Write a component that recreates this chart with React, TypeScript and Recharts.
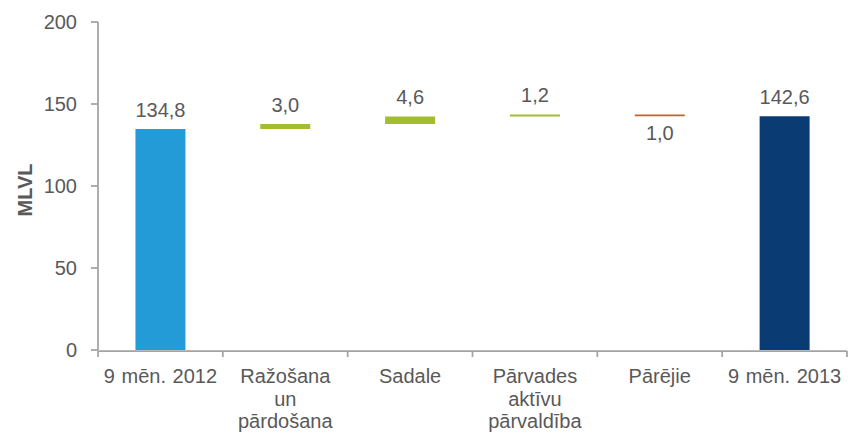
import React from 'react';
import { BarChart, Bar, XAxis, YAxis, Cell, LabelList } from 'recharts';

const categories = [
  '9 mēn. 2012',
  'Ražošana\nun\npārdošana',
  'Sadale',
  'Pārvades\naktīvu\npārvaldība',
  'Pārējie',
  '9 mēn. 2013',
];
const values = [134.8, 3.0, 4.6, 1.2, -1.0, 142.6];
const isTotal = [true, false, false, false, false, true];
const valueLabels = ['134,8', '3,0', '4,6', '1,2', '1,0', '142,6'];
const barColors = ['#229BD6', '#A3BD31', '#A3BD31', '#A3BD31', '#D05A2A', '#0A3C73'];
const yTicks = [0, 50, 100, 150, 200];
const boundaryTicks = [0, 1, 2, 3, 4, 5, 6];

const FONT = '"Liberation Sans", Arial, sans-serif';
const TEXT = '#595959';
const AXIS = '#A3A3A3';

let running = 0;
const data = categories.map((name, i) => {
  const v = values[i];
  let base = 0;
  let size = 0;
  if (isTotal[i]) {
    base = 0;
    size = v;
    running = v;
  } else if (v >= 0) {
    base = running;
    size = v;
    running += v;
  } else {
    running += v;
    base = running;
    size = -v;
  }
  return { name, pos: i, base, size, neg: v < 0, label: valueLabels[i], color: barColors[i] };
});

const renderValueLabel = (props: any) => {
  const { x, y, width, height, index } = props;
  const d = data[index];
  const cx = Number(x) + Number(width) / 2;
  if (d.neg) {
    return (
      <text x={cx} y={Number(y) + Number(height) + 24} textAnchor="middle" fill={TEXT} fontSize={20} fontFamily={FONT}>
        {d.label}
      </text>
    );
  }
  return (
    <text x={cx} y={Number(y) - 12} textAnchor="middle" fill={TEXT} fontSize={20} fontFamily={FONT}>
      {d.label}
    </text>
  );
};

const CategoryTick = (props: any) => {
  const { x, payload } = props;
  const lines = String(payload.value).split('\n');
  const top = 350;
  return (
    <text x={x} y={top} textAnchor="middle" fill={TEXT} fontSize={20} fontFamily={FONT} wordSpacing={1}>
      {lines.map((l, i) => (
        <tspan key={i} x={x} dy={i === 0 ? 33 : 22.5}>
          {l}
        </tspan>
      ))}
    </text>
  );
};

const EmptyTick = () => <g />;

const YTitle = (props: any) => {
  const vb = props.viewBox || { x: 0, y: 22, width: 98, height: 328 };
  const cy = vb.y + vb.height / 2 + 4;
  const cx = 32;
  return (
    <text
      x={cx}
      y={cy}
      textAnchor="middle"
      transform={`rotate(-90 ${cx} ${cy})`}
      fill={TEXT}
      fontSize={20}
      fontWeight="bold"
      fontFamily={FONT}
    >
      MLVL
    </text>
  );
};

export default function App() {
  return (
    <div style={{ position: 'absolute', left: 0, top: 0, width: 848, height: 435, background: '#fff' }}>
      <BarChart
        width={848}
        height={435}
        data={data}
        margin={{ top: 22, right: 1, bottom: 83, left: 0 }}
        barCategoryGap="30%"
      >
        <XAxis
          xAxisId="cat"
          dataKey="name"
          type="category"
          height={1}
          interval={0}
          axisLine={false}
          tickLine={false}
          tick={<CategoryTick />}
        />
        <XAxis
          xAxisId="grid"
          dataKey="pos"
          type="number"
          domain={[0, 6]}
          ticks={boundaryTicks}
          interval={0}
          allowDataOverflow
          height={1}
          tick={<EmptyTick />}
          tickSize={6}
          axisLine={{ stroke: AXIS, strokeWidth: 1.75 }}
          tickLine={{ stroke: AXIS, strokeWidth: 1.75 }}
        />
        <YAxis
          width={98}
          domain={[0, 200]}
          ticks={yTicks}
          tickSize={7}
          tickMargin={14}
          axisLine={{ stroke: AXIS, strokeWidth: 1.75 }}
          tickLine={{ stroke: AXIS, strokeWidth: 1.75 }}
          tick={{ fill: TEXT, fontSize: 20, fontFamily: FONT }}
          label={<YTitle />}
        />
        <Bar xAxisId="cat" dataKey="base" stackId="w" fill="transparent" isAnimationActive={false} />
        <Bar xAxisId="cat" dataKey="size" stackId="w" isAnimationActive={false}>
          {data.map((d, i) => (
            <Cell key={i} fill={d.color} />
          ))}
          <LabelList dataKey="size" content={renderValueLabel} />
        </Bar>
      </BarChart>
    </div>
  );
}
